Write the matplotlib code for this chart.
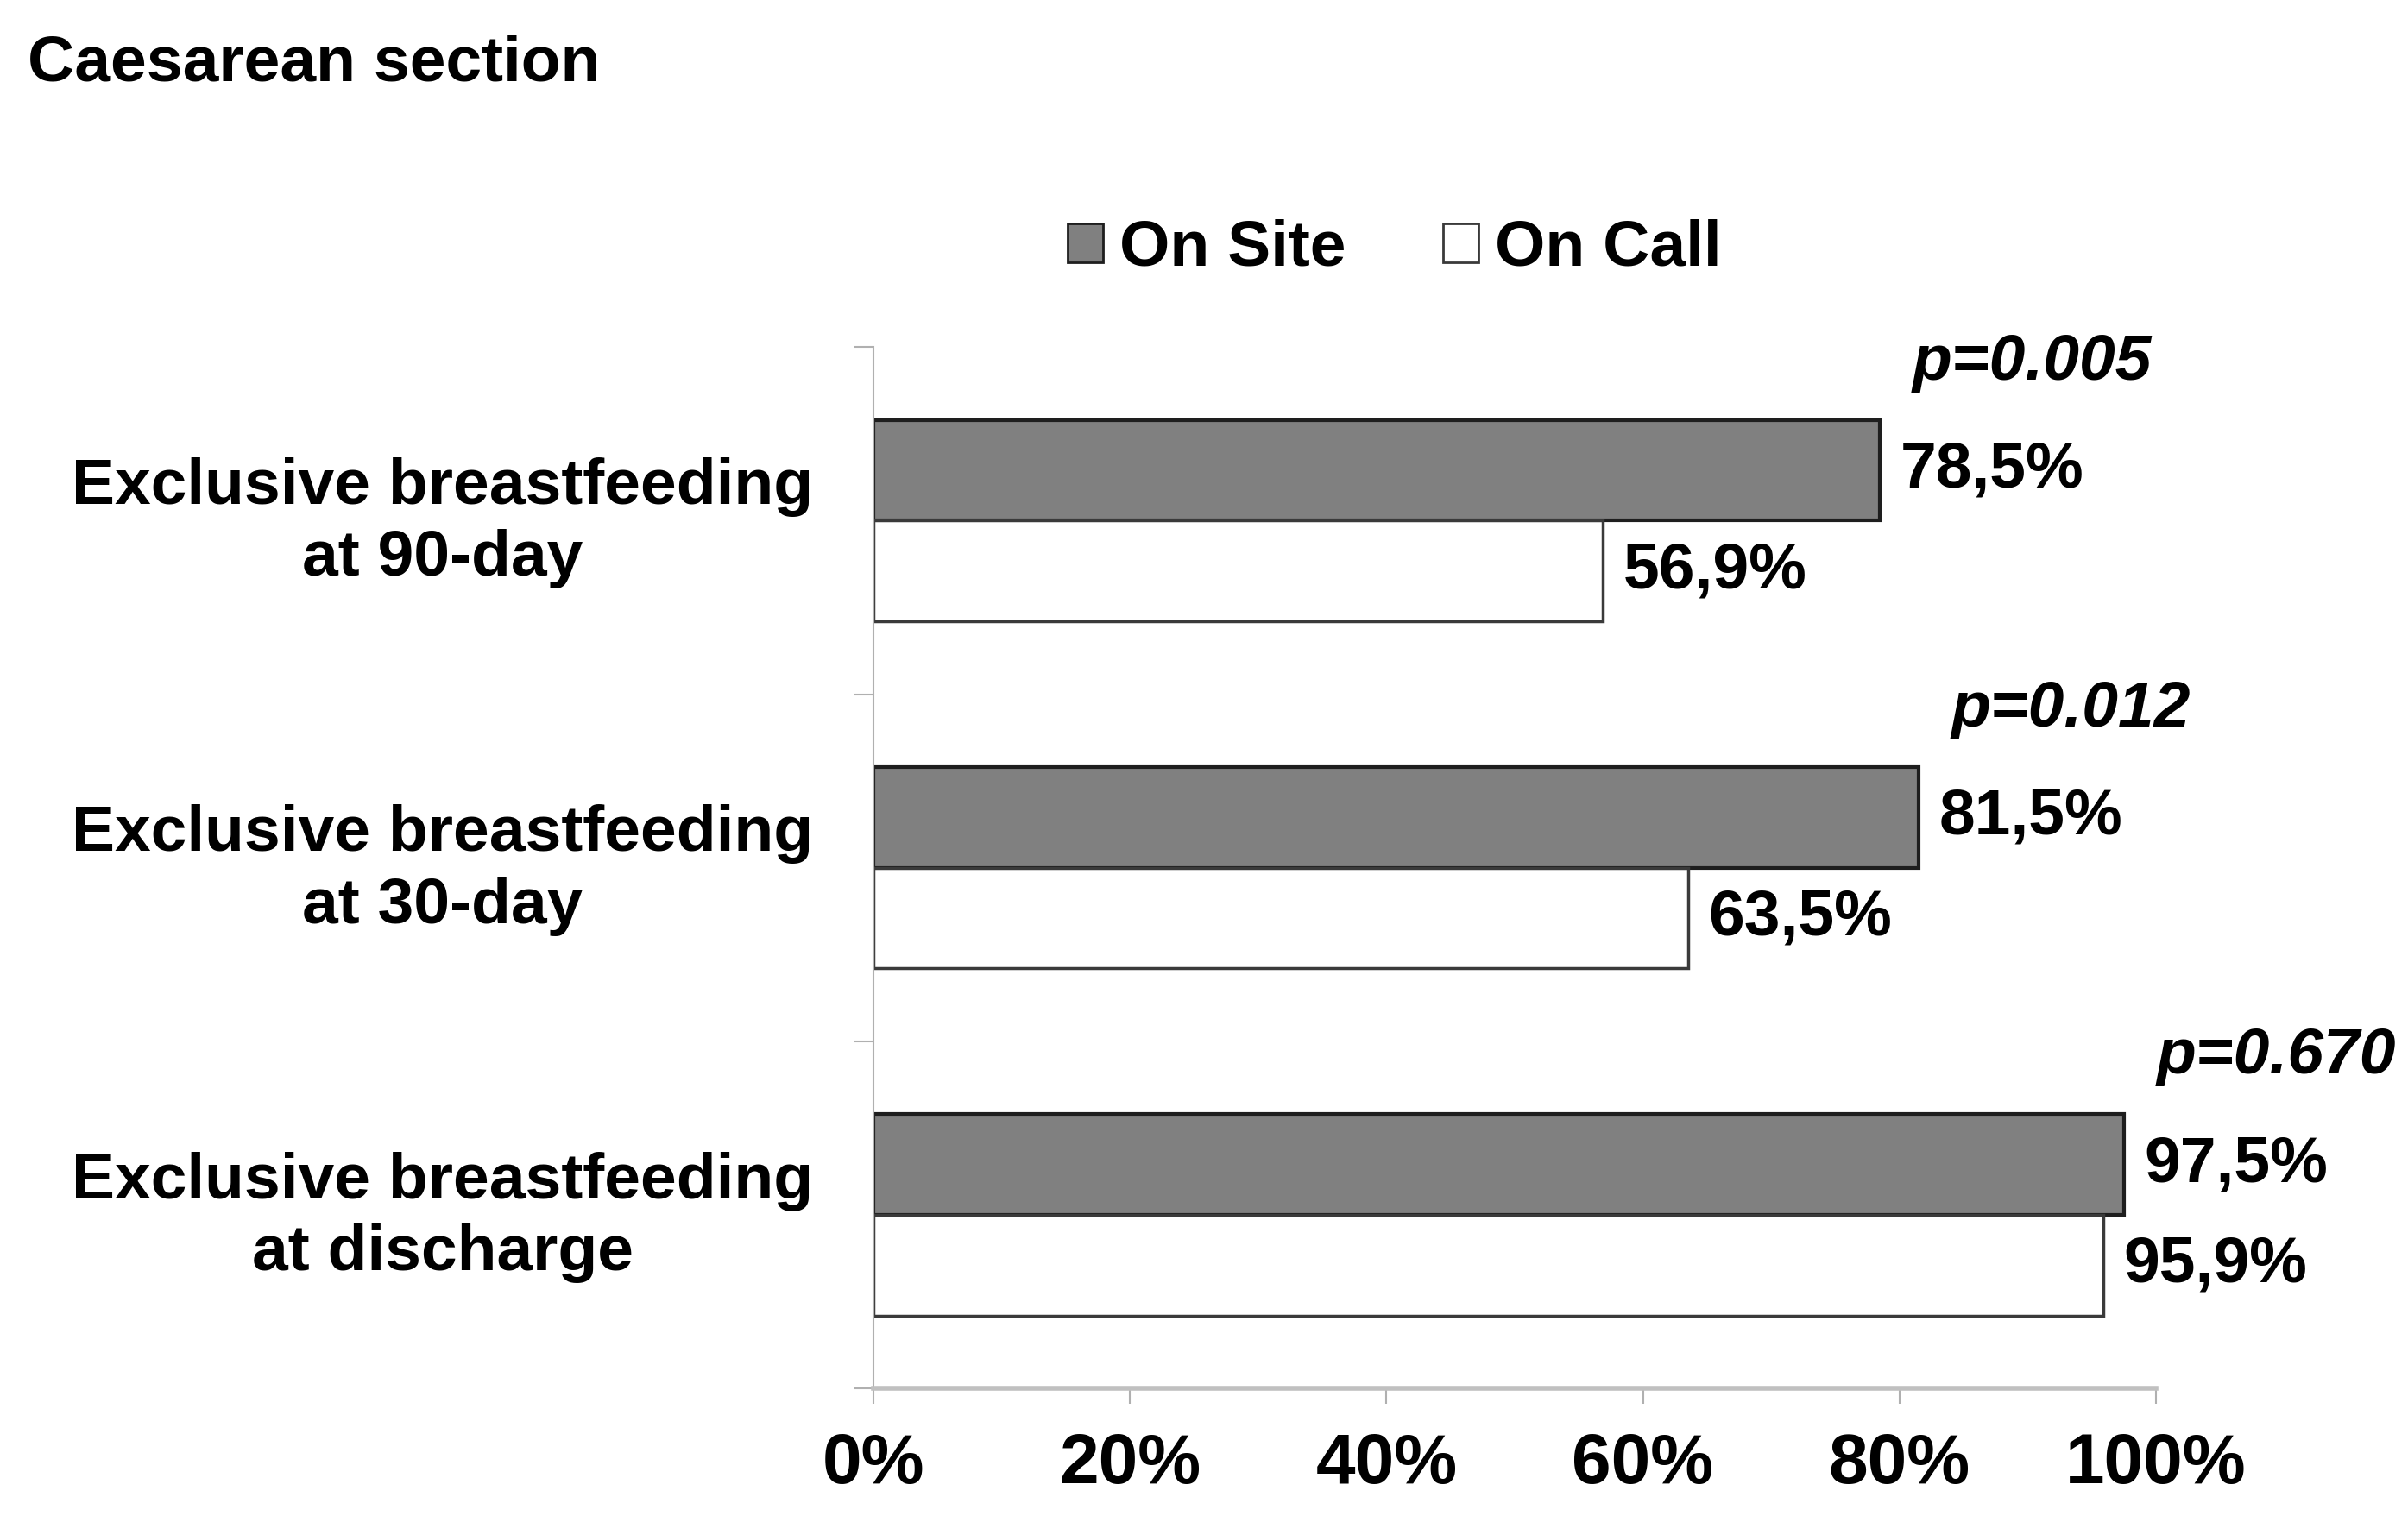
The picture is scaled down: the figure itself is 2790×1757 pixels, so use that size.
import matplotlib
matplotlib.use("Agg")
import matplotlib.pyplot as plt
from matplotlib.patches import Patch
import numpy as np

plt.rcParams['font.family'] = ['Liberation Sans', 'DejaVu Sans']
plt.rcParams['font.weight'] = 'bold'

categories = ['Exclusive breastfeeding\nat discharge',
              'Exclusive breastfeeding\nat 30-day',
              'Exclusive breastfeeding\nat 90-day']
on_site = [97.5, 81.5, 78.5]
on_call = [95.9, 63.5, 56.9]
p_values = ['p=0.670', 'p=0.012', 'p=0.005']
series_names = ['On Site', 'On Call']
xticks = [0, 20, 40, 60, 80, 100]

fig = plt.figure(figsize=(27.9, 17.57), dpi=100)
ax = fig.add_axes([0.3627, 0.0842, 0.5326, 0.6868])

y = np.arange(len(categories))
h = 0.29
b1 = ax.barh(y + h / 2, on_site, height=h, color='#808080',
             edgecolor='#1e1e1e', linewidth=3)
b2 = ax.barh(y - h / 2, on_call, height=h, color='white',
             edgecolor='#3a3a3a', linewidth=2.5)

fs = 54
for i in range(len(categories)):
    ax.annotate(f'{on_site[i]:.1f}%'.replace('.', ','), (on_site[i], y[i] + h / 2),
                xytext=(17, 0), textcoords='offset points', va='center', ha='left',
                fontsize=fs, fontweight='bold')
    ax.annotate(f'{on_call[i]:.1f}%'.replace('.', ','), (on_call[i], y[i] - h / 2),
                xytext=(17, 0), textcoords='offset points', va='center', ha='left',
                fontsize=fs, fontweight='bold')
    ax.annotate(p_values[i], (on_site[i], y[i] + 0.456),
                xytext=(27, 0), textcoords='offset points', va='center', ha='left',
                fontsize=fs, fontweight='bold', fontstyle='italic')
    # category label, placed left of the axis
    ax.annotate(categories[i], (0, y[i]), xytext=(-50, -2), textcoords='offset points',
                va='center', ha='right', multialignment='center', linespacing=1.26,
                fontsize=fs, fontweight='bold', annotation_clip=False)

ax.set_xlim(0, 100)
ax.set_ylim(-0.5, 2.5)
ax.set_xticks(xticks)
ax.set_xticklabels([f'{v}%' for v in xticks], fontsize=59, fontweight='bold')
ax.set_yticks([])
ax.set_yticks([-0.5, 0.5, 1.5, 2.5], minor=True)

ax.tick_params(axis='y', which='minor', length=16, width=1.5, color='#b0b0b0')
ax.tick_params(axis='x', which='major', length=13, width=1.5, color='#b0b0b0', pad=24)

for s in ['top', 'right']:
    ax.spines[s].set_visible(False)
ax.spines['left'].set_color('#b0b0b0')
ax.spines['left'].set_linewidth(1.5)
ax.spines['bottom'].set_color('#c0c0c0')
ax.spines['bottom'].set_linewidth(4)

fig.text(0.0115, 0.947, 'Caesarean section', fontsize=fs, fontweight='bold',
         ha='left', va='baseline')

handles = [Patch(facecolor='#808080', edgecolor='#1e1e1e', linewidth=2),
           Patch(facecolor='white', edgecolor='#3a3a3a', linewidth=2)]
fig.legend(handles, series_names, loc='center', bbox_to_anchor=(0.579, 0.836),
           ncol=2, frameon=False, handlelength=0.55, handleheight=0.55,
           handletextpad=0.25, columnspacing=1.5, prop={'weight': 'bold', 'size': fs})

fig.savefig('out.png', dpi=100)
